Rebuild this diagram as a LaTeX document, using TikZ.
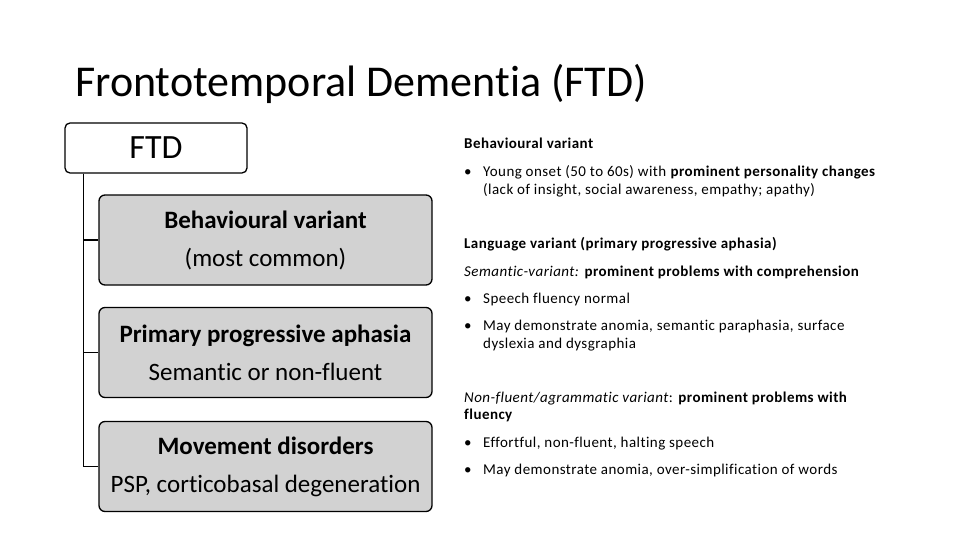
\documentclass[tikz,border=0pt]{standalone}
\usepackage{fontspec}
\setmainfont{Carlito}[Ligatures=CommonOff]
\usetikzlibrary{positioning}

\newcommand{\punct}{\makebox[19pt][l]{\textbullet}}
\newcommand{\retras}{\hspace*{19pt}}

\begin{document}
\begin{tikzpicture}[
        x=1pt, y=-1pt,
        radacina/.style={draw, line width=1.3pt, rounded corners=5pt, fill=white, minimum width=182pt,
            minimum height=50pt, inner sep=0pt, font=\fontsize{34}{40}\selectfont},
        ramura/.style={draw, line width=1.3pt, rounded corners=6pt, fill=gray!35, minimum width=333pt,
            minimum height=90pt, inner sep=0pt, align=center, font=\fontsize{25}{38}\selectfont},
        legatura/.style={line width=1.3pt},
        paragraf/.style={anchor=base west, align=left, inner sep=0pt,
            font=\fontsize{15}{17.5}\selectfont\addfontfeature{LetterSpace=3}},
    ]
        \useasboundingbox (0,0) rectangle (960,540);
        \node[anchor=base west, inner sep=0pt, font=\fontsize{44}{50}\selectfont] (titlu) at (75,97)
            {Frontotemporal Dementia (FTD)};
        % arborele din stanga
        \node[radacina] (ftd) at (156,148) {FTD};
        \node[ramura] (bv) at (265.5,240) {\textbf{Behavioural variant}\\(most common)};
        \node[ramura] (ppa) at (265.5,352.5) {\textbf{Primary progressive aphasia}\\Semantic or non-fluent};
        \node[ramura] (mov) at (265.5,466.5) {\textbf{Movement disorders}\\PSP, corticobasal degeneration};
        \draw[legatura] ([xshift=19pt]ftd.south west) |- (bv.west);
        \draw[legatura] ([xshift=19pt]ftd.south west) |- (ppa.west);
        \draw[legatura] ([xshift=19pt]ftd.south west) |- (mov.west);
        % textul din dreapta (ancora base = ultimul rand)
        \node[paragraf] (t1) at (464,149) {\textbf{Behavioural variant}};
        \node[paragraf] (t2) at (464,194.5)
            {\punct Young onset (50 to 60s) with \textbf{prominent personality changes}\\
             \retras(lack of insight, social awareness, empathy; apathy)};
        \node[paragraf] (t3) at (464,248) {\textbf{Language variant (primary progressive aphasia)}};
        \node[paragraf] (t4) at (464,276) {\textit{Semantic-variant:} \textbf{prominent problems with comprehension}};
        \node[paragraf] (t5) at (464,303) {\punct Speech fluency normal};
        \node[paragraf] (t6) at (464,348)
            {\punct May demonstrate anomia, semantic paraphasia, surface\\
             \retras dyslexia and dysgraphia};
        \node[paragraf] (t7) at (464,419.5)
            {\textit{Non-fluent/agrammatic variant}: \textbf{prominent problems with}\\
             \textbf{fluency}};
        \node[paragraf] (t8) at (464,447) {\punct Effortful, non-fluent, halting speech};
        \node[paragraf] (t9) at (464,474) {\punct May demonstrate anomia, over-simplification of words};
    \end{tikzpicture}
\end{document}
